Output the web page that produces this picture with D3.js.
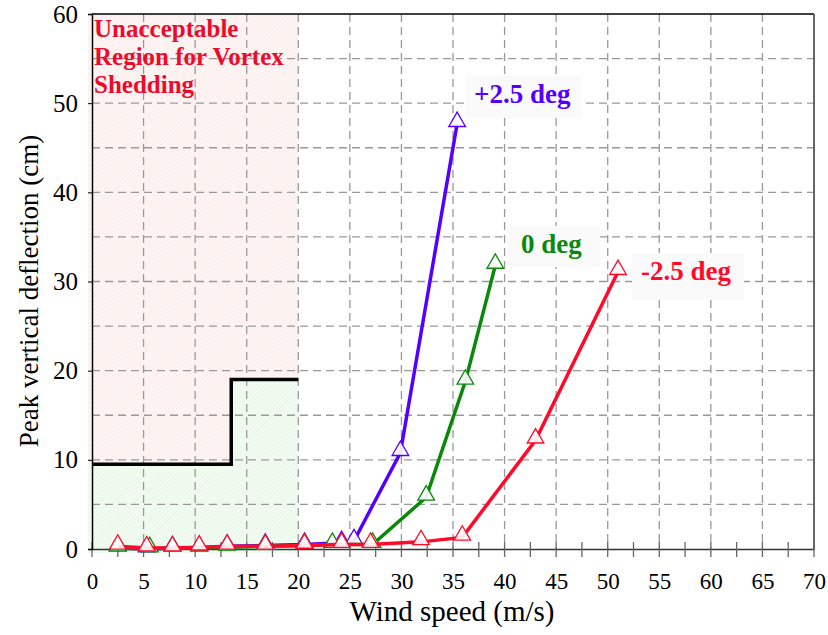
<!DOCTYPE html>
<html>
<head>
<meta charset="utf-8">
<script src="https://cdn.jsdelivr.net/npm/d3@7"></script>
<style>
  body { margin: 0; background: #fff; }
</style>
</head>
<body>
<svg id="chart" width="828" height="635"></svg>
<script>
// wind speed (m/s) and peak deflection (cm) for each angle
const plusSpeed = [2.5, 5.3, 7.8, 10.4, 13.1, 16.8, 20.6, 24.2, 25.4, 29.9, 35.4];
const plusDefl  = [0.1, 0.0, 0.1, 0.1, 0.3, 0.4, 0.5, 0.7, 0.9, 10.8, 47.7];

const zeroSpeed = [2.5, 5.6, 7.8, 10.4, 13.1, 16.8, 20.6, 23.3, 27.2, 32.4, 36.2, 39.1];
const zeroDefl  = [0.1, 0.0, 0.1, 0.1, 0.2, 0.3, 0.4, 0.5, 0.5, 5.8, 18.8, 31.8];

const minusSpeed = [2.5, 5.3, 7.8, 10.4, 13.1, 16.8, 20.6, 24.2, 27.0, 31.9, 35.9, 43.0, 51.0];
const minusDefl  = [0.3, 0.1, 0.1, 0.2, 0.3, 0.3, 0.4, 0.5, 0.5, 0.8, 1.3, 12.2, 31.1];

// allowable deflection limit (step line)
const limitSpeed = [0, 13.5, 13.5, 20];
const limitDefl  = [9.5, 9.5, 19, 19];

const xTicks = d3.range(0, 71, 5);
const yTicks = d3.range(0, 61, 10);

const serif = "'Liberation Serif'";

let margin = {left: 92, right: 14, top: 14, bottom: 86};
let width = 828 - margin.left - margin.right;
let height = 635 - margin.top - margin.bottom;

let svg = d3.select("#chart");

// hatch patterns for the shaded regions
let defs = svg.append("defs");
function hatch(id, bg, fg) {
    let p = defs.append("pattern")
                .attr("id", id)
                .attr("width", 3).attr("height", 3)
                .attr("patternUnits", "userSpaceOnUse")
                .attr("patternTransform", "rotate(45)");
    p.append("rect").attr("width", 3).attr("height", 3).attr("fill", bg);
    p.append("line").attr("x1", 0).attr("y1", 0).attr("x2", 0).attr("y2", 3)
     .attr("stroke", fg).attr("stroke-width", 1);
}
hatch("pinkHatch", "#fef6f5", "#f9e0de");
hatch("greenHatch", "#f3fcf2", "#dcf3da");

let g = svg.append("g")
           .attr("transform", "translate(" + margin.left + "," + margin.top + ")");

let x = d3.scaleLinear().domain([0, 70]).range([0, width]);
let y = d3.scaleLinear().domain([0, 60]).range([height, 0]);

// unacceptable region
g.append("rect")
 .attr("x", x(0) - 4).attr("y", y(60))
 .attr("width", x(20) - x(0) + 4).attr("height", y(0) - y(60))
 .attr("fill", "url(#pinkHatch)");

// acceptable area under the limit
let area = d3.area()
             .x((d, i) => x(limitSpeed[i]))
             .y0(y(0) + 4)
             .y1(d => y(d));
g.append("path")
 .attr("d", area(limitDefl))
 .attr("fill", "url(#greenHatch)");
g.append("rect")
 .attr("x", x(0) - 4).attr("y", y(limitDefl[0]))
 .attr("width", 4).attr("height", y(0) - y(limitDefl[0]) + 4)
 .attr("fill", "url(#greenHatch)");

// grid
g.append("g").selectAll("line")
 .data(xTicks.slice(1, -1))
 .enter().append("line")
 .attr("x1", d => x(d)).attr("x2", d => x(d))
 .attr("y1", 0).attr("y2", height)
 .attr("stroke", "#999").attr("stroke-width", 1.3)
 .attr("stroke-dasharray", "8,5");

g.append("g").selectAll("line")
 .data(d3.range(5, 60, 5))
 .enter().append("line")
 .attr("x1", 0).attr("x2", width)
 .attr("y1", d => y(d)).attr("y2", d => y(d))
 .attr("stroke", "#999").attr("stroke-width", 1.3)
 .attr("stroke-dasharray", "8,5");

// frame
g.append("line").attr("x1", 0).attr("x2", width).attr("y1", 0).attr("y2", 0)
 .attr("stroke", "#000").attr("stroke-width", 1.5);
g.append("line").attr("x1", width).attr("x2", width).attr("y1", 0).attr("y2", height)
 .attr("stroke", "#666").attr("stroke-width", 2);

// axes
let xAxis = d3.axisBottom(x).tickValues(xTicks).tickSize(0).tickPadding(24);
let gx = g.append("g").attr("transform", "translate(0," + height + ")").call(xAxis)
          .attr("font-family", "Liberation Serif");
gx.select(".domain").attr("stroke", "#333").attr("stroke-width", 1.5);
gx.selectAll("text").attr("font-size", 23).attr("fill", "#000");

// minor and major ticks crossing the x axis
g.append("g").selectAll("line")
 .data(d3.range(0, 70.1, 2.5))
 .enter().append("line")
 .attr("x1", d => x(d)).attr("x2", d => x(d))
 .attr("y1", height - 7).attr("y2", height + 8)
 .attr("stroke", "#666").attr("stroke-width", 1.3);

let yAxis = d3.axisLeft(y).tickValues(yTicks).tickSize(4).tickPadding(10);
let gy = g.append("g").call(yAxis).attr("font-family", "Liberation Serif");
gy.select(".domain").attr("stroke", "#000").attr("stroke-width", 1.5);
gy.selectAll(".tick line").attr("stroke", "#000");
gy.selectAll("text").attr("font-size", 25).attr("fill", "#000");

// limit step line
let step = d3.line()
             .x((d, i) => x(limitSpeed[i]))
             .y(d => y(d));
g.append("path")
 .attr("d", step(limitDefl))
 .attr("fill", "none")
 .attr("stroke", "#000")
 .attr("stroke-width", 3.5);

// series
let series = [
    {speed: plusSpeed, defl: plusDefl, color: "#5500ff"},
    {speed: zeroSpeed, defl: zeroDefl, color: "#0a880a"},
    {speed: minusSpeed, defl: minusDefl, color: "#ff0a2a"}
];

let tri = d3.symbol().type(d3.symbolTriangle).size(120);

series.forEach(function (s) {
    let line = d3.line()
                 .x((d, i) => x(s.speed[i]))
                 .y(d => y(d));
    g.append("path")
     .attr("d", line(s.defl))
     .attr("fill", "none")
     .attr("stroke", s.color)
     .attr("stroke-width", 3.5);
    g.append("g").selectAll("path")
     .data(s.defl)
     .enter().append("path")
     .attr("d", tri)
     .attr("transform", (d, i) => "translate(" + x(s.speed[i]) + "," + (y(d) - 2) + ")")
     .attr("fill", "#fff")
     .attr("fill-opacity", 0.9)
     .attr("stroke", s.color)
     .attr("stroke-width", 1.3);
});

// series labels
let labels = [
    {text: "+2.5 deg", x: 474, y: 103, color: "#5500ff", box: [466, 75, 115, 43]},
    {text: "0 deg", x: 521, y: 253, color: "#0a880a", box: [508, 226, 92, 41]},
    {text: "-2.5 deg", x: 641, y: 280, color: "#ff0a2a", box: [632, 253, 112, 47]}
];
labels.forEach(function (l) {
    svg.append("rect")
       .attr("x", l.box[0]).attr("y", l.box[1])
       .attr("width", l.box[2]).attr("height", l.box[3])
       .attr("fill", "#fafafa");
    svg.append("text")
       .attr("x", l.x).attr("y", l.y)
       .attr("font-size", 27).attr("font-weight", "bold")
       .attr("fill", l.color)
       .text(l.text);
});

// region annotation
let note = svg.append("text")
              .attr("x", 94).attr("y", 37)
              .attr("font-size", 25).attr("font-weight", "bold")
              .attr("fill", "#ee0a2a");
["Unacceptable", "Region for Vortex", "Shedding"].forEach(function (t, i) {
    note.append("tspan").attr("x", 94).attr("dy", i === 0 ? 0 : 28).text(t);
});

// axis titles
svg.append("text")
   .attr("x", 452).attr("y", 621)
   .attr("text-anchor", "middle")
   .attr("font-size", 29)
   .text("Wind speed (m/s)");

svg.append("text")
   .attr("transform", "translate(38,291) rotate(-90)")
   .attr("text-anchor", "middle")
   .attr("font-size", 27)
   .text("Peak vertical deflection (cm)");

svg.selectAll("text")
   .attr("font-family", "Liberation Serif")
   .style("font-family", serif);
</script>
</body>
</html>
